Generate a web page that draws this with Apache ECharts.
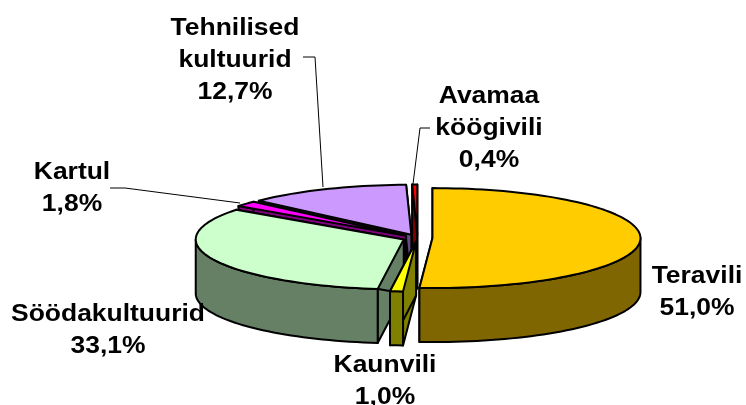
<!DOCTYPE html>
<html>
<head>
<meta charset="utf-8">
<style>html,body{margin:0;padding:0;background:#fff}#c{width:746px;height:405px}</style>
<script src="https://cdn.jsdelivr.net/npm/echarts@6/dist/echarts.min.js"></script>
</head>
<body>
<div id="c"></div>
<script>
// Data (clockwise from 12 o'clock)
const categories = ['Teravili', 'Kaunvili', 'Söödakultuurid', 'Kartul', 'Tehnilised kultuurid', 'Avamaa köögivili'];
const values = [51.0, 1.0, 33.1, 1.8, 12.7, 0.4];
const labelLines = [['Teravili'], ['Kaunvili'], ['Söödakultuurid'], ['Kartul'], ['Tehnilised', 'kultuurid'], ['Avamaa', 'köögivili']];

// Styles
const topColors = ['#FFCC00', '#FFFF00', '#CCFFCC', '#FF00FF', '#CC99FF', '#FF0000'];
const wallColors = ['#806600', '#808000', '#668066', '#800080', '#664D80', '#800000'];
const paintRank = [5, 4, 3, 2, 1, 0];

// Layout
const pie = { cx: 417.5, cy: 238, rx: 208, ry: 50, depth: 54, explode: 0.072 };
const labelFirstLine = [[697, 277], [385, 366], [108, 315], [72, 173], [235, 29], [489, 97]];
const lineGap = 32;
const leaders = [
  [[303, 57], [315, 57], [323, 187]],
  [[110, 188], [125, 188], [240, 203]],
  [[430, 128], [420, 128], [413, 184]]
];

const total = values.reduce((a, b) => a + b, 0);
const rad = d => d * Math.PI / 180;
const starts = [];
values.reduce((acc, v, i) => { starts[i] = acc; return acc + v / total * 360; }, 0);

function renderItem(params, api) {
  const i = params.dataIndex;
  const a0 = starts[i], a1 = a0 + api.value(0) / total * 360, mid = (a0 + a1) / 2;
  const cx = pie.cx + pie.explode * pie.rx * Math.sin(rad(mid));
  const cy = pie.cy - pie.explode * pie.ry * Math.cos(rad(mid));
  const rim = a => [cx + pie.rx * Math.sin(rad(a)), cy - pie.ry * Math.cos(rad(a))];
  const down = p => [p[0], p[1] + pie.depth];
  const arc = (from, to) => {
    const pts = [], n = Math.max(2, Math.ceil((to - from) / 2));
    for (let k = 0; k <= n; k++) pts.push(rim(from + (to - from) * k / n));
    return pts;
  };
  const apex = [cx, cy];
  const base = paintRank[i] * 10;
  const stroke = { stroke: '#000', lineWidth: 2, lineJoin: 'round' };
  const poly = (points, fill, z) => ({
    type: 'polygon', z2: base + z, silent: true,
    shape: { points }, style: Object.assign({ fill }, stroke)
  });
  const children = [];
  [a0, a1].forEach(a => {
    const p = rim(a);
    children.push(poly([apex, p, down(p), down(apex)], wallColors[i], 1));
  });
  const f = Math.max(a0, 90), t = Math.min(a1, 270);
  if (f < t) {
    const top = arc(f, t);
    children.push(poly(top.concat(top.slice().reverse().map(down)), wallColors[i], 2));
  }
  children.push(poly([apex].concat(arc(a0, a1)), topColors[i], 3));
  return { type: 'group', children };
}

const fmt = v => v.toFixed(1).replace('.', ',') + '%';
const graphics = [];
labelLines.forEach((lines, i) => {
  lines.concat([fmt(values[i])]).forEach((txt, j) => {
    graphics.push({
      type: 'text', silent: true, z: 10,
      x: labelFirstLine[i][0], y: labelFirstLine[i][1] + j * lineGap, scaleX: 1.15,
      style: {
        text: txt, fill: '#000', textAlign: 'center', textVerticalAlign: 'middle',
        font: 'bold 23px "Liberation Sans", Arial, sans-serif'
      }
    });
  });
});
leaders.forEach(points => graphics.push({
  type: 'polyline', silent: true, z: 10,
  shape: { points }, style: { stroke: '#000', lineWidth: 1, fill: null }
}));

const chart = echarts.init(document.getElementById('c'));
chart.setOption({
  backgroundColor: '#fff',
  animation: false,
  tooltip: { show: false },
  series: [{
    type: 'custom',
    coordinateSystem: 'none',
    renderItem,
    silent: true,
    dimensions: ['value'],
    data: categories.map((name, i) => ({ name, value: [values[i]] }))
  }],
  graphic: { elements: graphics }
});
</script>
</body>
</html>
